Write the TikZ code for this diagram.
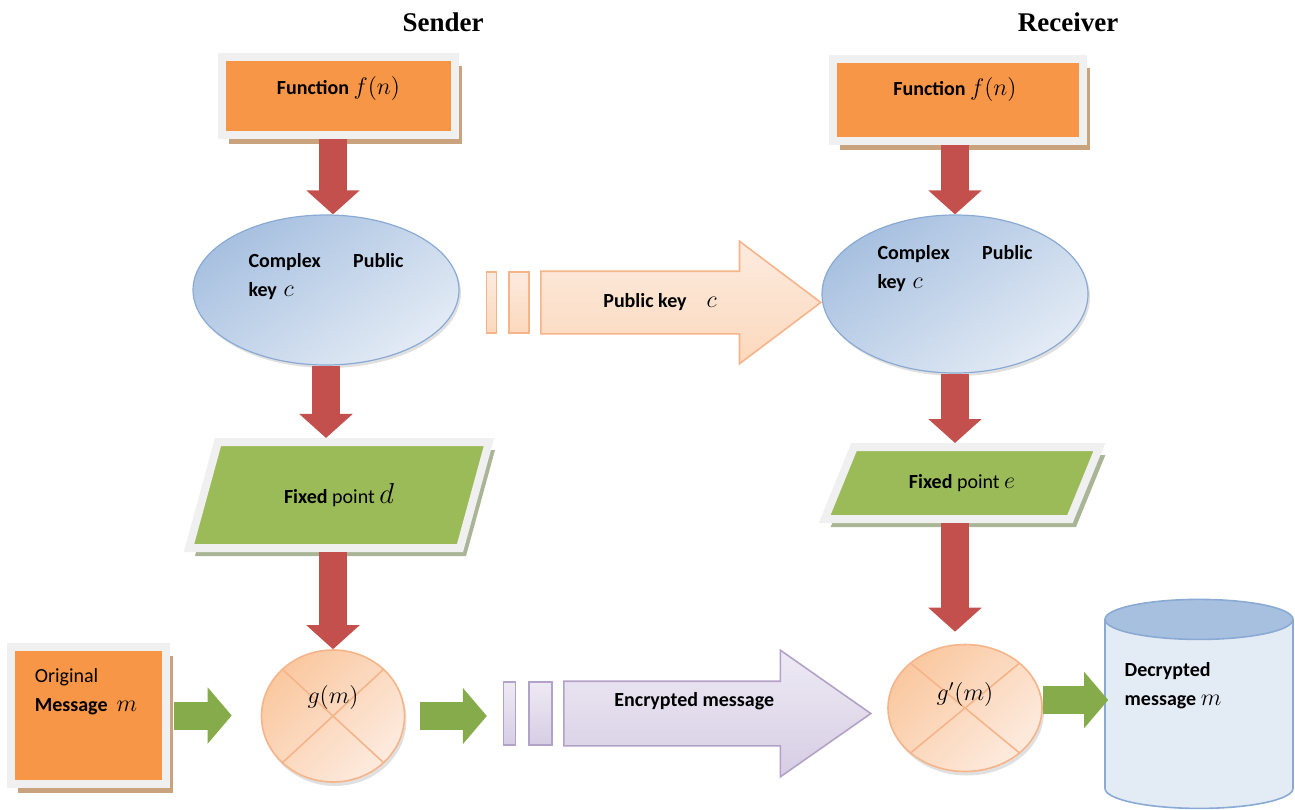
\documentclass[tikz,border=0pt]{standalone}
\usepackage{amsmath}
\usepackage{fontspec}
\setmainfont{Carlito}
\newfontfamily\headfont{Liberation Serif}
\usetikzlibrary{positioning,shapes.geometric,shapes.arrows,shadows,arrows.meta}

\definecolor{boxorange}{HTML}{F79646}
\definecolor{frameg}{HTML}{F0F0F0}
\definecolor{shadowtan}{HTML}{C9A27E}
\definecolor{shadowgrn}{HTML}{A9B596}
\definecolor{keyblueA}{HTML}{A7C0E0}
\definecolor{keyblueB}{HTML}{E3EBF5}
\definecolor{keyblueL}{HTML}{8AAAD4}
\definecolor{redA}{HTML}{C4504D}
\definecolor{greenF}{HTML}{9BBB59}
\definecolor{greenA}{HTML}{86AB4A}
\definecolor{peachA}{HTML}{FAC8A0}
\definecolor{peachB}{HTML}{FDEBDF}
\definecolor{peachL}{HTML}{F6B48A}
\definecolor{lilacA}{HTML}{D6CDE4}
\definecolor{lilacB}{HTML}{EEEAF4}
\definecolor{lilacL}{HTML}{B3A2C7}

\begin{document}
\begin{tikzpicture}[x=0.5pt,y=-0.5pt,
  headtxt/.style={font=\headfont\bfseries\fontsize{13.5}{16}\selectfont},
  fnbox/.style={rectangle,fill=boxorange,draw=frameg,line width=4pt,
    drop shadow={shadow xshift=3.5pt,shadow yshift=-4.5pt,fill=shadowtan,opacity=1}},
  keyell/.style={ellipse,draw=keyblueL,line width=0.6pt,top color=keyblueA,
    bottom color=keyblueB,shading angle=35,
    drop shadow={shadow xshift=1pt,shadow yshift=-1.5pt,fill=black!30,opacity=.4}},
  fixpt/.style={trapezium,trapezium stretches=true,fill=greenF,draw=frameg,line width=4pt,
    drop shadow={shadow xshift=3pt,shadow yshift=-4pt,fill=shadowgrn,opacity=1}},
  mapcirc/.style={ellipse,draw=peachL,line width=0.8pt,top color=peachA,
    bottom color=peachB,shading angle=45,
    drop shadow={shadow xshift=1pt,shadow yshift=-2pt,fill=black!30,opacity=.4},
    path picture={\draw[peachL,line width=0.8pt]
      (path picture bounding box.north west) -- (path picture bounding box.south east)
      (path picture bounding box.north east) -- (path picture bounding box.south west);}},
  redarrow/.style={draw=redA,line width=14pt,-{Triangle[width=26pt,length=12pt]}},
  greenarrow/.style={draw=greenA,line width=14pt,-{Triangle[width=27.5pt,length=12pt]}},
  pkarrow/.style={single arrow,draw=peachL,line width=0.8pt,top color=peachB,bottom color=peachA!70,
    single arrow head extend=15pt,single arrow head indent=0pt,
    text height=7pt,text depth=2.5pt,inner ysep=10.5pt,anchor=tail},
  pkstripe/.style={rectangle,draw=peachL,line width=0.8pt,top color=peachB,bottom color=peachA!70,
    minimum height=30.5pt,inner sep=0pt},
  encarrow/.style={single arrow,draw=lilacL,line width=0.8pt,top color=lilacB,bottom color=lilacA,
    single arrow head extend=15.5pt,single arrow head indent=0pt,
    text height=7pt,text depth=2.5pt,inner ysep=11pt,anchor=tail},
  encstripe/.style={rectangle,draw=lilacL,line width=0.8pt,top color=lilacB,bottom color=lilacA,
    minimum height=31.5pt,inner sep=0pt}]
\useasboundingbox (0,0) rectangle (1295,809);

% titles
\node[headtxt] (sender) at (443,22) {Sender};
\node[headtxt] (receiver) at (1068,22) {Receiver};

% sender
\node[fnbox,minimum width=116.5pt,minimum height=39pt,
  label={[yshift=4pt]center:\textbf{Function} {\large$f(n)$}}] (f1) at (338.5,96) {};
\node[keyell,minimum width=133pt,minimum height=75pt,
  label={[align=left,text width=77.5pt,yshift=6.5pt]center:\textbf{Complex}\hfill\textbf{Public}\\[2.5pt]\textbf{key} {\large$c$}}] (c1) at (326,290) {};
\node[fixpt,trapezium left angle=68,trapezium right angle=112,
  minimum width=151pt,minimum height=53pt] (fp1) at (339,495) {\textbf{Fixed} point {\Large$d$}};
\node[mapcirc,minimum width=71.5pt,minimum height=66pt,
  label={[yshift=9.5pt]center:{\large$g(m)$}}] (g1) at (333,716) {};
\node[fnbox,minimum width=77.5pt,minimum height=68.5pt,
  label={[align=left,xshift=-1.25pt,yshift=12pt]center:Original\\[2.5pt]\textbf{Message}\ \ {\large$m$}}] (msg) at (88.5,715.5) {};

% receiver
\node[fnbox,minimum width=125pt,minimum height=41pt,
  label={[xshift=-1.5pt,yshift=5.5pt]center:\textbf{Function} {\large$f(n)$}}] (f2) at (958,100) {};
\node[keyell,minimum width=133pt,minimum height=79pt,
  label={[align=left,text width=77.5pt,yshift=12.5pt]center:\textbf{Complex}\hfill\textbf{Public}\\[2.5pt]\textbf{key} {\large$c$}}] (c2) at (955,294) {};
\node[fixpt,trapezium left angle=62,trapezium right angle=118,
  minimum width=138pt,minimum height=36pt] (fp2) at (962,483) {\textbf{Fixed} point {\large$e$}};
\node[mapcirc,minimum width=77pt,minimum height=63.5pt,
  label={[yshift=7pt]center:{\large$g'(m)$}}] (g2) at (965,708) {};
\node[cylinder,shape border rotate=90,aspect=3,draw=keyblueL,line width=0.8pt,
  cylinder uses custom fill,cylinder body fill=keyblueB,cylinder end fill=keyblueA,
  minimum width=94pt,minimum height=104.5pt,
  label={[align=left,xshift=-13pt,yshift=16pt]center:\textbf{Decrypted}\\[2.5pt]\textbf{message} {\large$m$}}] (cyl) at (1199,718) {};

% channels
\node[pkarrow,single arrow tip angle=74,minimum height=140pt] (pk) at (540,302.5) {\textbf{Public key}\quad{\large$c$}};
\node[pkstripe,minimum width=10pt,left=5pt of pk.tail] (pk2) {};
\node[pkstripe,minimum width=5pt,left=5.5pt of pk2] (pk1) {};
\node[encarrow,single arrow tip angle=70,minimum height=153.5pt] (enc) at (563,713.5) {\raisebox{6pt}{\textbf{Encrypted message}}};
\node[encstripe,minimum width=11.5pt,left=5pt of enc.tail] (enc2) {};
\node[encstripe,minimum width=6pt,left=6pt of enc2] (enc1) {};

% red arrows
\draw[redarrow] (f1.south -| g1.north) -- (c1.north -| g1.north);
\draw[redarrow] (c1.south) -- (c1.south |- fp1.north);
\draw[redarrow] (fp1.south -| g1.north) -- (g1.north);
\draw[redarrow] (f2.south -| c2.north) -- (c2.north);
\draw[redarrow] (c2.south) -- (c2.south |- fp2.north);
\draw[redarrow,shorten >=6pt] (fp2.south -| c2.south) -- (g2.north -| c2.south);

% green arrows
\draw[greenarrow,shorten <=2pt,shorten >=14.5pt] (msg.east) -- (msg.east -| g1.west);
\draw[greenarrow,shorten <=7.5pt,shorten >=8pt] (g1.east) -- (g1.east -| enc1.west);
\draw[greenarrow,shorten >=-2pt] ([yshift=4pt]g2.east) -- ([yshift=4pt]g2.east -| cyl.west);
\end{tikzpicture}
\end{document}
